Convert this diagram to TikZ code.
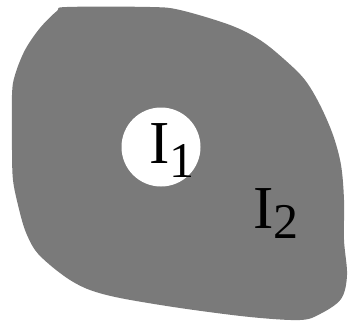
\documentclass[tikz,border=0pt]{standalone}
\usepackage{fontspec}
\setmainfont{Liberation Serif}
\begin{document}
\begin{tikzpicture}[x=1pt,y=-1pt,
  region/.style={fill=black!52,draw=none},
  hole/.style={circle,fill=white,draw=none,minimum size=79pt,inner sep=0pt},
  symb/.style={anchor=base west,inner sep=0pt,font=\fontsize{61}{61}\selectfont}]
  \useasboundingbox (0,0) rectangle (352,321);
  \fill[region] plot[smooth cycle,tension=0.55] coordinates {
    (67,7) (150,7) (180,10) (230,25) (260,40) (285,60) (305,80) (320,105)
    (333,135) (341,165) (344,200) (344,240) (347,275) (341,299) (320,314)
    (300,320) (250,317) (180,308) (120,298) (90,290) (70,280) (50,265)
    (35,250) (25,230) (18,205) (13,180) (12,150) (12,95) (15,75) (25,50)
    (40,28) (57,11)};
  \node[hole] (h1) at (161,147) {};
  \node[symb] (i1) at (149,163) {I\raisebox{-14pt}{\fontsize{50}{50}\selectfont 1}};
  \node[symb] (i2) at (253,228) {I\raisebox{-10pt}{\fontsize{50}{50}\selectfont 2}};
\end{tikzpicture}
\end{document}
